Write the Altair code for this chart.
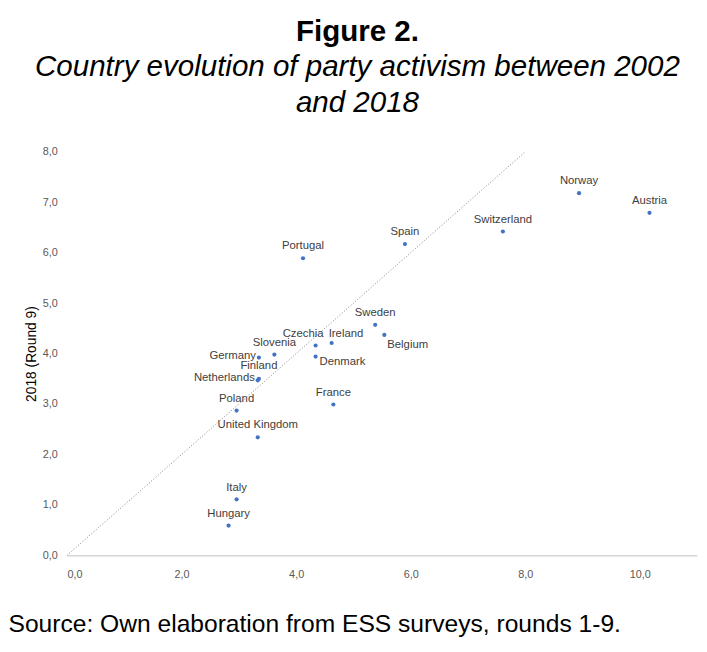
import altair as alt
import pandas as pd

countries = ["Norway", "Austria", "Switzerland", "Spain", "Portugal", "Sweden", "Belgium",
             "Czechia", "Ireland", "Slovenia", "Germany", "Denmark", "Finland", "Netherlands",
             "Poland", "United Kingdom", "France", "Italy", "Hungary"]
round1 = [8.94, 10.17, 7.61, 5.90, 4.12, 5.38, 5.54, 4.34, 4.62, 3.62, 3.35, 4.34, 3.35, 3.33,
          2.96, 3.33, 4.65, 2.96, 2.82]
round9 = [7.18, 6.79, 6.42, 6.17, 5.89, 4.57, 4.37, 4.16, 4.21, 3.98, 3.92, 3.94, 3.50, 3.47,
          2.87, 2.34, 2.99, 1.11, 0.59]

df = pd.DataFrame({"country": countries, "x": round1, "y": round9})
diag = pd.DataFrame({"x": [0, 8], "y": [0, 8]})

# where each label sits relative to its point
right_labels = ["Belgium"]
left_labels = ["Netherlands", "Germany"]
below_labels = ["Denmark"]
finland = ["Finland"]
czechia = ["Czechia"]
ireland = ["Ireland"]

fmt = "replace(format(datum.value, '.1f'), '.', ',')"
xs = alt.Scale(domain=[0, 11], nice=False)
ys = alt.Scale(domain=[0, 8], nice=False)

base = alt.Chart(df).encode(
    x=alt.X("x:Q", scale=xs, axis=alt.Axis(
        values=[0, 2, 4, 6, 8, 10], labelExpr=fmt, grid=False, ticks=False,
        domainColor="#bfbfbf", labelColor="#595959", labelFontSize=11, labelPadding=14,
        title="Source: Own elaboration from ESS surveys, rounds 1-9.",
        titleFontSize=25, titleFontWeight="normal", titleAnchor="start", titleAlign="left",
        titleX=-60, titlePadding=32, titleColor="black", titleFont="Liberation Sans")),
    y=alt.Y("y:Q", scale=ys, axis=alt.Axis(
        values=[0, 1, 2, 3, 4, 5, 6, 7, 8], labelExpr=fmt, grid=False, ticks=False,
        domain=False, labelColor="#595959", labelFontSize=11, labelPadding=10,
        title="2018 (Round 9)", titleFontSize=14, titleFontWeight="normal", titleColor="black")),
)

line = alt.Chart(diag).mark_line(color="#7f7f7f", strokeDash=[1, 2], strokeWidth=1).encode(
    x=alt.X("x:Q", scale=xs), y=alt.Y("y:Q", scale=ys))

points = base.mark_circle(size=18, color="#4472c4", opacity=1)

txt = dict(fontSize=11.5, color="#404040", font="Liberation Sans")
special = right_labels + left_labels + below_labels + finland + czechia + ireland


def labels(names, **kw):
    return base.mark_text(**txt, **kw).encode(text="country").transform_filter(
        alt.FieldOneOfPredicate(field="country", oneOf=names))


above = labels([c for c in countries if c not in special], dy=-12)
right = labels(right_labels, align="left", dx=3, dy=10)
left = labels(left_labels, align="right", dx=-3, dy=-2)
below = labels(below_labels, align="left", dx=4, dy=6)
fin = labels(finland, dy=-13)
cz = labels(czechia, align="right", dx=8, dy=-12)
ie = labels(ireland, align="left", dx=-3, dy=-9)

chart = alt.layer(line, points, above, right, left, below, fin, cz, ie).properties(
    width=640, height=410,
    title=alt.TitleParams(
        text="Figure 2.",
        subtitle=["Country evolution of party activism between 2002", "and 2018"],
        fontSize=30, font="Liberation Sans", fontWeight="bold", color="black",
        subtitleFontSize=30, subtitleFont="Liberation Sans", subtitleFontStyle="italic",
        subtitleColor="black", subtitleLineHeight=37, anchor="middle", offset=28,
        subtitlePadding=6, dx=-25),
    padding={"left": 0, "top": 4, "right": 2, "bottom": 5},
).configure_view(stroke=None)

chart.save("out.html", embed_options={"renderer": "svg", "actions": False})
